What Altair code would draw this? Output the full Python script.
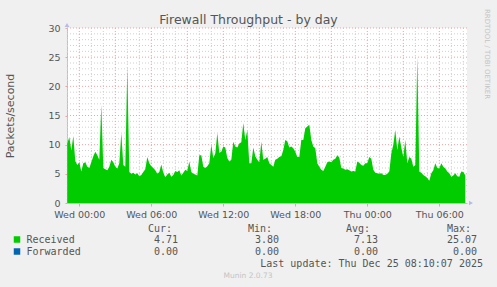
import altair as alt
import pandas as pd

# ---------------- data ----------------
received = [
    10.2, 11.3, 9.0, 11.5, 7.2, 6.5, 7.0, 5.4, 6.8, 7.0,
    6.2, 6.0, 7.0, 8.0, 8.8, 8.2, 7.4, 16.8, 6.0, 5.8,
    5.6, 6.2, 7.4, 7.0, 6.2, 5.9, 6.8, 12.0, 6.5, 6.2,
    23.3, 5.3, 5.0, 5.2, 4.9, 5.1, 4.6, 4.8, 5.3, 5.8,
    7.9, 6.8, 6.3, 6.0, 5.6, 5.0, 5.3, 6.6, 5.2, 4.4,
    4.9, 5.2, 4.5, 4.8, 5.5, 5.3, 5.6, 4.7, 5.2, 5.7,
    5.5, 7.1, 5.3, 5.0, 4.9, 4.7, 8.2, 8.2, 6.2, 6.0,
    6.3, 6.8, 10.0, 7.7, 8.5, 12.0, 8.6, 8.8, 9.7, 9.5,
    7.7, 7.1, 7.4, 10.5, 9.7, 9.5, 10.2, 10.4, 13.7, 10.8,
    12.5, 6.8, 6.8, 9.5, 8.0, 7.4, 7.0, 10.5, 7.4, 7.6,
    7.9, 6.8, 6.5, 6.2, 7.4, 7.6, 7.9, 8.0, 9.1, 10.8,
    10.6, 9.5, 9.7, 9.4, 8.8, 7.9, 7.9, 10.8, 10.8, 12.8,
    13.1, 13.4, 10.8, 9.7, 9.4, 6.8, 6.2, 5.7, 5.5, 6.2,
    7.0, 7.1, 7.0, 7.4, 7.6, 8.2, 7.8, 6.0, 5.9, 5.7,
    5.8, 5.6, 5.4, 5.5, 5.4, 7.1, 6.9, 6.5, 6.4, 6.8,
    6.8, 7.9, 7.6, 5.7, 5.2, 5.1, 5.0, 5.1, 4.8, 4.8,
    5.0, 5.4, 8.5, 10.0, 12.5, 9.1, 11.4, 9.5, 7.9, 10.8,
    6.8, 7.9, 7.6, 6.2, 6.5, 25.07, 5.4, 5.2, 4.8, 4.6,
    4.3, 3.8, 5.1, 5.6, 6.8, 6.0, 5.9, 6.8, 6.2, 5.9,
    5.4, 5.1, 4.5, 4.7, 5.1, 4.6, 4.5, 5.4, 5.3, 4.71,
]
forwarded = [0.0] * len(received)

series_names = ["Received", "Forwarded"]
series_colors = ["#00cc00", "#0066b3"]
stat_headers = ["Cur:", "Min:", "Avg:", "Max:"]
stat_cur = ["4.71", "0.00"]
stat_min = ["3.80", "0.00"]
stat_avg = ["7.13", "0.00"]
stat_max = ["25.07", "0.00"]

x_label_times = ["2025-12-24 00:00", "2025-12-24 06:00", "2025-12-24 12:00",
                 "2025-12-24 18:00", "2025-12-25 00:00", "2025-12-25 06:00"]
y_label_values = [0, 5, 10, 15, 20, 25, 30]

title_text = "Firewall Throughput - by day"
y_title = "Packets/second"
last_update = "Last update: Thu Dec 25 08:10:07 2025"
munin_ver = "Munin 2.0.73"
rrd_credit = "RRDTOOL / TOBI OETIKER"

start = pd.Timestamp("2025-12-23 23:00")          # first sample, 10-minute steps
times = [(start + pd.Timedelta(minutes=10 * i)).strftime("%Y-%m-%dT%H:%M:%SZ")
         for i in range(len(received))]


def ms(ts):
    return int(pd.Timestamp(ts, tz="UTC").value // 10**6)


x_domain = [ms("2025-12-23 22:58:30"), ms("2025-12-25 08:18:30")]
hours = pd.date_range("2025-12-23 23:00", "2025-12-25 08:00", freq="1h")
x_major = [h.strftime("%Y-%m-%dT%H:%M:%SZ") for h in hours if h.hour % 3 == 0]
x_minor = [h.strftime("%Y-%m-%dT%H:%M:%SZ") for h in hours if h.hour % 3 != 0]
y_major = [v for v in range(0, 31) if v % 5 == 0 and v > 0]
y_minor = [v for v in range(0, 31) if v % 5 != 0]

df = pd.DataFrame({"time": times, "received": received, "forwarded": forwarded})

FONT = "DejaVu Sans"
MONO = "DejaVu Sans Mono"
TXT = "#555555"
MAJOR = "#eba4a4"
MINOR = "#cfcfcf"
AXIS = "#b4bce8"

W, H = 400, 175
L, T = 67, 28  # plot origin in page pixels

xscale = alt.Scale(type="utc", domain=x_domain, nice=False)
yscale = alt.Scale(domain=[0, 30], nice=False)

x_axis = alt.Axis(
    values=[ms(t) for t in x_label_times], format="%a %H:%M", title=None,
    labelOverlap=False, grid=False, orient="bottom",
    labelFont=FONT, labelFontSize=9.5, labelColor=TXT, labelPadding=3,
    tickSize=3, tickColor=MAJOR, domainColor=AXIS,
)
y_axis = alt.Axis(
    values=y_label_values, title=y_title, labelOverlap=False, grid=False, orient="left",
    labelFont=FONT, labelFontSize=9.5, labelColor=TXT, labelPadding=5,
    tickSize=2, tickColor=MAJOR, domainColor=AXIS,
    titleFont=FONT, titleFontSize=11, titleFontWeight="normal", titleColor=TXT,
    titleAngle=-90, titleX=-56.5, titleY=H / 2, titleAlign="center", titleBaseline="middle",
)


def vgrid(vals, color):
    d = pd.DataFrame({"t": vals})
    return alt.Chart(d).mark_rule(color=color, strokeDash=[1, 2], strokeWidth=1).encode(
        x=alt.X("t:T", scale=xscale, axis=None), y=alt.value(0), y2=alt.value(H))


def hgrid(vals, color):
    d = pd.DataFrame({"v": vals})
    return alt.Chart(d).mark_rule(color=color, strokeDash=[1, 2], strokeWidth=1).encode(
        y=alt.Y("v:Q", scale=yscale, axis=None), x=alt.value(0), x2=alt.value(W))


area_fwd = alt.Chart(df).mark_area(color=series_colors[1], opacity=1).encode(
    x=alt.X("time:T", scale=xscale, axis=None), y=alt.Y("forwarded:Q", scale=yscale, axis=None))
area_recv = alt.Chart(df).mark_area(color=series_colors[0], opacity=1, interpolate="linear").encode(
    x=alt.X("time:T", scale=xscale, axis=x_axis),
    y=alt.Y("received:Q", scale=yscale, axis=y_axis))

one = pd.DataFrame({"a": [0]})


def text(s, x, y, size=10, font=MONO, color=TXT, align="left", baseline="middle", angle=0):
    kw = dict(text=s, font=font, fontSize=size, color=color, align=align, baseline=baseline)
    if angle:
        kw["angle"] = angle
    return alt.Chart(one).mark_text(**kw).encode(x=alt.value(x - L), y=alt.value(y - T))


layers = [vgrid(x_minor, MINOR), hgrid(y_minor, MINOR), vgrid(x_major, MAJOR), hgrid(y_major, MAJOR),
          area_fwd, area_recv]

# axis arrow heads
layers.append(alt.Chart(one).mark_point(shape="triangle-up", filled=True, color=AXIS, size=22, opacity=1)
              .encode(x=alt.value(0), y=alt.value(-3)))
layers.append(alt.Chart(one).mark_point(shape="triangle-right", filled=True, color=AXIS, size=22, opacity=1)
              .encode(x=alt.value(W + 4), y=alt.value(H)))

# title and credits
layers.append(text(title_text, 248.5, 24, size=12.5, font=FONT, color=TXT, align="center", baseline="alphabetic"))
layers.append(text(rrd_credit, 487, 54, size=7, font=FONT, color="#c4c4c4", align="center", angle=90))
layers.append(text(munin_ver, 248, 276, size=7.5, font=FONT, color="#c4c4c4", align="center"))

# legend
header_right = [172, 272, 370, 471]
value_right = [178, 279, 378, 477]
for h, xr in zip(stat_headers, header_right):
    layers.append(text(h, xr, 228.5, align="right"))
rows_y = [239.5, 251.5]
stat_cols = [stat_cur, stat_min, stat_avg, stat_max]
for r, (name, col) in enumerate(zip(series_names, series_colors)):
    layers.append(alt.Chart(one).mark_square(color=col, size=42, opacity=1)
                  .encode(x=alt.value(17 - L), y=alt.value(rows_y[r] - T)))
    layers.append(text(name, 26.5, rows_y[r]))
    for c, xr in enumerate(value_right):
        layers.append(text(stat_cols[c][r], xr, rows_y[r], align="right"))
layers.append(text(last_update, 483, 264, align="right"))

chart = alt.layer(*layers).resolve_axis(x="independent", y="independent").properties(
    width=W, height=H,
    autosize=alt.AutoSizeParams(type="none"),
    padding={"left": L, "top": T, "right": 497 - L - W, "bottom": 287 - T - H},
    background="#f0f0f0",
).configure_view(fill="white", strokeWidth=0)

chart.save("out.html", embed_options={"renderer": "svg", "actions": False})
